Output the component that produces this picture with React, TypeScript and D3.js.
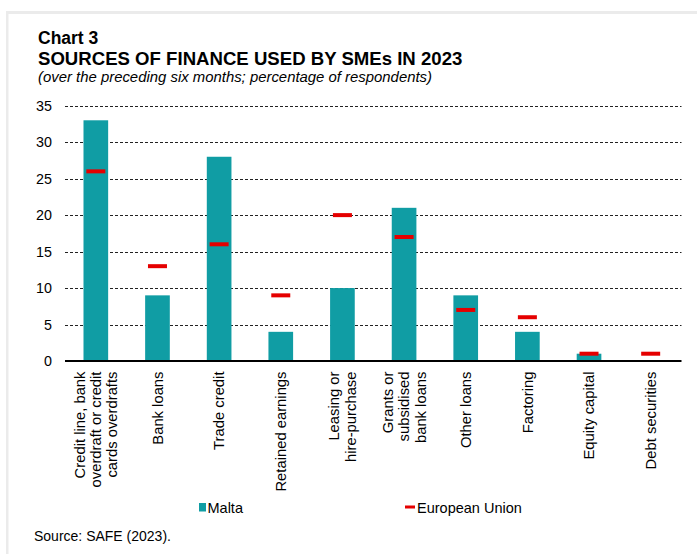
import React from "react";
import * as d3 from "d3";

const categories: string[][] = [
  ["Credit line, bank", "overdraft or credit", "cards overdrafts"],
  ["Bank loans"],
  ["Trade credit"],
  ["Retained earnings"],
  ["Leasing or", "hire-purchase"],
  ["Grants or", "subsidised", "bank loans"],
  ["Other loans"],
  ["Factoring"],
  ["Equity capital"],
  ["Debt securities"],
];
const malta: number[] = [33, 9, 28, 4, 10, 21, 9, 4, 1, 0];
const eu: number[] = [26, 13, 16, 9, 20, 17, 7, 6, 1, 1];
const yTicks: number[] = [0, 5, 10, 15, 20, 25, 30, 35];

const W = 697;
const H = 554;
const TEAL = "#109DA4";
const RED = "#E50000";
const FONT = "'Liberation Sans', Arial, sans-serif";

export default function App() {
  const keys = categories.map((c) => c.join(" "));
  const x = d3
    .scaleBand<string>()
    .domain(keys)
    .range([65, 681.5])
    .paddingInner(0.6)
    .paddingOuter(0.3);
  const y = d3.scaleLinear().domain([0, 35]).range([361, 105.7]);
  const bw = x.bandwidth();
  const lh = 16.5;

  return (
    <svg
      width={W}
      height={H}
      style={{ position: "absolute", left: 0, top: 0, background: "#fff" }}
      fontFamily={FONT}
    >
      <rect x={6} y={11} width={W - 6} height={3} fill="#ebebeb" />
      <rect x={6} y={11} width={2.5} height={H - 11} fill="#ebebeb" />

      <text x={38} y={43.5} fontSize={17.5} fontWeight="bold" fill="#000">
        Chart 3
      </text>
      <text x={38} y={64.5} fontSize={18.6} fontWeight="bold" fill="#000">
        SOURCES OF FINANCE USED BY SMEs IN 2023
      </text>
      <text x={38} y={81.5} fontSize={14.9} fontStyle="italic" fill="#000">
        (over the preceding six months; percentage of respondents)
      </text>

      {yTicks.map((t) => (
        <g key={t}>
          {t > 0 && (
            <line
              x1={65}
              x2={681.5}
              y1={Math.round(y(t)) + 0.5}
              y2={Math.round(y(t)) + 0.5}
              stroke="#222"
              strokeWidth={1}
              strokeDasharray="3,2"
            />
          )}
          <text
            x={52}
            y={y(t)}
            dy="0.35em"
            textAnchor="end"
            fontSize={14.3}
            fill="#000"
          >
            {t}
          </text>
        </g>
      ))}

      {keys.map((k, i) => (
        <rect
          key={"b" + k}
          x={x(k)}
          y={y(malta[i])}
          width={bw}
          height={y(0) - y(malta[i])}
          fill={TEAL}
        />
      ))}

      <line x1={65} x2={681.5} y1={361} y2={361} stroke="#000" strokeWidth={2} />

      {keys.map((k, i) => (
        <rect
          key={"e" + k}
          x={(x(k) as number) + bw / 2 - 9.5}
          y={y(eu[i]) - 2}
          width={19}
          height={4}
          fill={RED}
        />
      ))}

      {categories.map((lines, i) => {
        const cx = (x(keys[i]) as number) + bw / 2;
        return (
          <g key={"l" + i} transform={`translate(${cx},371.5) rotate(-90)`}>
            {lines.map((ln, j) => (
              <text
                key={j}
                x={0}
                y={(j - (lines.length - 1) / 2) * lh}
                dy="0.35em"
                textAnchor="end"
                fontSize={14.8}
                fill="#000"
              >
                {ln}
              </text>
            ))}
          </g>
        );
      })}

      <rect x={199} y={503} width={7} height={8.5} fill={TEAL} />
      <text x={207.5} y={512.5} fontSize={14.5} fill="#000">
        Malta
      </text>
      <rect x={405} y={505.5} width={10} height={3} fill={RED} />
      <text x={417} y={512.5} fontSize={14.5} fill="#000">
        European Union
      </text>

      <text x={34} y={541} fontSize={14} fill="#000">
        Source: SAFE (2023).
      </text>
    </svg>
  );
}
